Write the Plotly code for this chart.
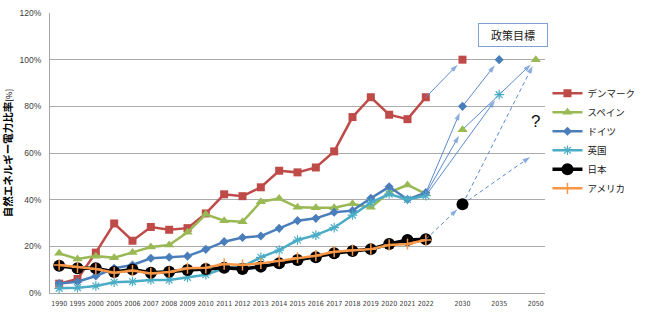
import plotly.graph_objects as go

# Category slots along the x axis (blank slots keep the spacing of the target years)
CATEGORIES = ["1990", "1995", "2000", "2005", "2006", "2007", "2008", "2009", "2010",
              "2011", "2012", "2013", "2014", "2015", "2016", "2017", "2018", "2019",
              "2020", "2021", "2022", "", "2030", "", "2035", "", "2050"]
YEARS = CATEGORIES[:21]

# Renewable share of electricity (fraction), 1990 .. 2022
DENMARK = [0.04, 0.06, 0.173, 0.298, 0.224, 0.283, 0.271, 0.278, 0.341,
           0.423, 0.415, 0.453, 0.524, 0.517, 0.538, 0.607, 0.754, 0.839,
           0.764, 0.745, 0.839]
SPAIN = [0.17, 0.146, 0.158, 0.151, 0.174, 0.197, 0.206, 0.260, 0.337,
         0.310, 0.305, 0.391, 0.405, 0.367, 0.365, 0.365, 0.382, 0.367,
         0.431, 0.463, 0.425]
GERMANY = [0.041, 0.048, 0.073, 0.106, 0.12, 0.149, 0.153, 0.158, 0.187,
           0.22, 0.238, 0.244, 0.277, 0.31, 0.32, 0.346, 0.353, 0.406,
           0.455, 0.401, 0.43]
UK = [0.02, 0.023, 0.03, 0.046, 0.049, 0.056, 0.056, 0.067, 0.078,
      0.106, 0.113, 0.153, 0.184, 0.227, 0.248, 0.28, 0.334, 0.387,
      0.424, 0.401, 0.417]
JAPAN = [0.117, 0.106, 0.106, 0.09, 0.101, 0.087, 0.091, 0.099, 0.103,
         0.108, 0.103, 0.113, 0.127, 0.141, 0.153, 0.17, 0.18, 0.188,
         0.21, 0.227, 0.23]
USA = [0.12, 0.11, 0.103, 0.087, 0.096, 0.084, 0.09, 0.106, 0.108,
       0.124, 0.12, 0.127, 0.138, 0.151, 0.16, 0.177, 0.184, 0.188,
       0.206, 0.21, 0.227]

# Policy targets
DENMARK_TARGET_YEARS, DENMARK_TARGET = ["2030"], [1.0]
SPAIN_TARGET_YEARS, SPAIN_TARGET = ["2030", "2050"], [0.70, 1.0]
GERMANY_TARGET_YEARS, GERMANY_TARGET = ["2030", "2035"], [0.80, 1.0]
UK_TARGET_YEARS, UK_TARGET = ["2035"], [0.85]
JAPAN_TARGET_YEARS, JAPAN_TARGET = ["2030"], [0.38]
JAPAN_2050_OPTIONS = [1.0, 0.60]

Y_TICKS = [0, 0.2, 0.4, 0.6, 0.8, 1.0, 1.2]


def pos(label):
    return CATEGORIES.index(label)


# pixel geometry of the plot area, used only to trim arrow ends
W, H = 650, 321
M = dict(l=50, r=105, t=13, b=28)
X_RANGE = [-0.5, len(CATEGORIES) - 0.5]
Y_RANGE = [0, 1.2]
PX_X = (W - M["l"] - M["r"]) / (X_RANGE[1] - X_RANGE[0])
PX_Y = (H - M["t"] - M["b"]) / (Y_RANGE[1] - Y_RANGE[0])

fig = go.Figure()

series = [
    ("デンマーク", DENMARK, DENMARK_TARGET_YEARS, DENMARK_TARGET, "#BE4B48",
     dict(symbol="square", size=8), 2.5),
    ("スペイン", SPAIN, SPAIN_TARGET_YEARS, SPAIN_TARGET, "#98B954",
     dict(symbol="triangle-up", size=9), 2.5),
    ("ドイツ", GERMANY, GERMANY_TARGET_YEARS, GERMANY_TARGET, "#4A7EBB",
     dict(symbol="diamond", size=7), 2.5),
    ("英国", UK, UK_TARGET_YEARS, UK_TARGET, "#4BACC6",
     dict(symbol="asterisk-open", size=8, line=dict(width=1.2, color="#4BACC6")), 2.5),
    ("日本", JAPAN, JAPAN_TARGET_YEARS, JAPAN_TARGET, "#000000",
     dict(symbol="circle", size=12), 3.5),
    ("アメリカ", USA, [], [], "#F79646",
     dict(symbol="cross-thin-open", size=8, line=dict(width=1.5, color="#F79646")), 2.5),
]

# Projection arrows: (from year, from value, to year, to value, dash)
ARROWS = [
    ("2022", DENMARK[-1], "2030", DENMARK_TARGET[0], "solid"),
    ("2022", GERMANY[-1], "2030", GERMANY_TARGET[0], "solid"),
    ("2030", GERMANY_TARGET[0], "2035", GERMANY_TARGET[1], "solid"),
    ("2022", SPAIN[-1], "2030", SPAIN_TARGET[0], "solid"),
    ("2030", SPAIN_TARGET[0], "2050", SPAIN_TARGET[1], "solid"),
    ("2022", UK[-1], "2035", UK_TARGET[0], "solid"),
    ("2022", JAPAN[-1], "2030", JAPAN_TARGET[0], "dash"),
    ("2030", JAPAN_TARGET[0], "2050", JAPAN_2050_OPTIONS[0], "dash"),
    ("2030", JAPAN_TARGET[0], "2050", JAPAN_2050_OPTIONS[1], "dash"),
]
ARROW_COLOR = "#5B8BD0"

# country series
for name, vals, tyears, tvals, color, marker, lw in series:
    fig.add_trace(go.Scatter(
        x=[pos(y) for y in YEARS], y=vals, name=name, mode="lines+markers",
        line=dict(color=color, width=lw),
        marker=dict(color=color, **marker),
        legendrank=len(fig.data) + 1,
    ))

# arrows drawn as lines ending in an arrow marker
for y0, v0, y1, v1, dash in ARROWS:
    x0, x1 = pos(y0), pos(y1)
    dxp, dyp = (x1 - x0) * PX_X, (v1 - v0) * PX_Y
    length = (dxp ** 2 + dyp ** 2) ** 0.5
    trim = 7.0 / length
    xe = x1 - (x1 - x0) * trim
    ve = v1 - (v1 - v0) * trim
    fig.add_trace(go.Scatter(
        x=[x0, xe], y=[v0, ve], mode="lines+markers", showlegend=False,
        hoverinfo="skip",
        line=dict(color=ARROW_COLOR, width=1, dash="4px,3px" if dash == "dash" else "solid"),
        marker=dict(symbol="arrow", size=[0, 8], angleref="previous",
                    color=ARROW_COLOR, line=dict(width=0)),
    ))

# target markers on top
for name, vals, tyears, tvals, color, marker, lw in series:
    if tyears:
        fig.add_trace(go.Scatter(
            x=[pos(y) for y in tyears], y=tvals, mode="markers", showlegend=False,
            marker=dict(color=color, **marker), name=name,
        ))

tick_pos = [i for i, c in enumerate(CATEGORIES) if c]
tick_txt = [c for c in CATEGORIES if c]

fig.update_layout(
    width=W, height=H, margin=dict(M, autoexpand=False),
    paper_bgcolor="white", plot_bgcolor="white",
    font=dict(family="Noto Sans CJK JP, DejaVu Sans", color="#404040"),
    xaxis=dict(range=X_RANGE, tickmode="array", tickvals=tick_pos, ticktext=tick_txt,
               tickangle=0, automargin=False, ticklabelstandoff=4,
               showgrid=False, zeroline=False, showline=True, linecolor="#A6A6A6",
               linewidth=1, tickfont=dict(size=7, family="DejaVu Sans Condensed, Liberation Sans Narrow"),
               ticks="", fixedrange=True),
    yaxis=dict(range=Y_RANGE, tickmode="array", tickvals=Y_TICKS, tickformat=".0%",
               automargin=False, ticklabelstandoff=6,
               showgrid=True, gridcolor="#ABABAB", gridwidth=1, zeroline=False,
               showline=True, linecolor="#A6A6A6", linewidth=1,
               tickfont=dict(size=8.5, family="Liberation Sans, Arial"), ticks="",
               title=dict(text="<b>自然エネルギー電力比率</b><span style='font-size:8px'>[%]</span>",
                          font=dict(size=10.5, color="#000000"), standoff=8)),
    legend=dict(x=1.005, y=0.765, xanchor="left", yanchor="top",
                font=dict(size=9.5, color="#202020"), bgcolor="rgba(0,0,0,0)",
                itemwidth=30, tracegroupgap=0),
    showlegend=True,
    annotations=[
        dict(text="政策目標", xref="paper", yref="paper", x=0.935, y=0.922,
             xanchor="center", yanchor="middle",
             showarrow=False, font=dict(size=11, color="#202020"),
             bordercolor="#7FA0D0", borderwidth=1, borderpad=3, width=62, height=16,
             bgcolor="white"),
        dict(text="?", xref="x", yref="y", x=26, y=0.737, showarrow=False,
             font=dict(size=17, color="#101010", family="Liberation Sans, Arial")),
    ],
)

fig.write_html("out.html")
